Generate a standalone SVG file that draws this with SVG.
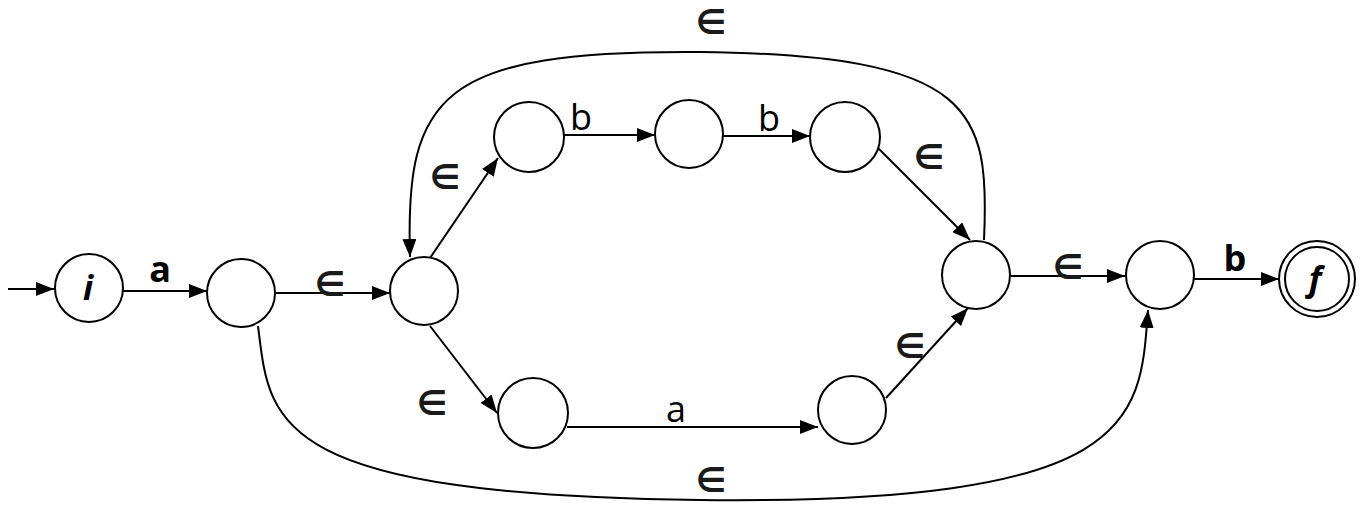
<svg xmlns="http://www.w3.org/2000/svg" width="1365" height="532" viewBox="0 0 1365 532">
  <style>
    .state { fill: #fff; stroke: #000; stroke-width: 2; }
    .edge { fill: none; stroke: #000; stroke-width: 2; }
    .lbl { font-family: "Open Sans", "Liberation Sans", sans-serif; font-size: 36px; fill: #000; text-anchor: middle; }
    .bold { font-weight: bold; }
    .eps { font-family: "DejaVu Sans", sans-serif; font-size: 34px; font-weight: bold; fill: #1a1a1a; text-anchor: middle; }
    .name { font-family: "Open Sans", "Liberation Sans", sans-serif; font-size: 34px; font-weight: bold; font-style: italic; text-anchor: middle; }
  </style>
  <defs>
    <marker id="arrow" viewBox="0 0 18 14" refX="18" refY="7" markerWidth="18" markerHeight="14" markerUnits="userSpaceOnUse" orient="auto">
      <path d="M0,0 L18,7 L0,14 Z" fill="#000"/>
    </marker>
  </defs>

  <g id="connectors">
    <path class="edge" d="M8,289 L54,289" marker-end="url(#arrow)"/>
    <path class="edge" d="M123,291 L207,291" marker-end="url(#arrow)"/>
    <path class="edge" d="M276,293 L390,293" marker-end="url(#arrow)"/>
    <path class="edge" d="M430,258 L498,158" marker-end="url(#arrow)"/>
    <path class="edge" d="M430,326 L497,413" marker-end="url(#arrow)"/>
    <path class="edge" d="M564,135 L655,135" marker-end="url(#arrow)"/>
    <path class="edge" d="M723,136 L810,136" marker-end="url(#arrow)"/>
    <path class="edge" d="M878,148 L970,240" marker-end="url(#arrow)"/>
    <path class="edge" d="M567,427 L818,427" marker-end="url(#arrow)"/>
    <path class="edge" d="M886,398 L968,308" marker-end="url(#arrow)"/>
    <path class="edge" d="M1011,276 L1125,276" marker-end="url(#arrow)"/>
    <path class="edge" d="M1194,279 L1279,279" marker-end="url(#arrow)"/>
    <!-- loop back over the top -->
    <path class="edge" d="M984,240 C990,110 975,55 700,52 C440,50 405,95 410,257" marker-end="url(#arrow)"/>
    <!-- bypass along the bottom -->
    <path class="edge" d="M258,326 C270,420 265,495 700,500 C1140,505 1140,420 1148,310" marker-end="url(#arrow)"/>
  </g>

  <g id="labels">
    <text class="lbl bold" x="160" y="282">a</text>
    <text class="eps" x="330" y="296">∈</text>
    <text class="eps" x="445" y="189">∈</text>
    <text class="eps" x="432" y="415">∈</text>
    <text class="lbl" x="581" y="130">b</text>
    <text class="lbl" x="769" y="131">b</text>
    <text class="eps" x="929" y="169">∈</text>
    <text class="lbl" x="676" y="422">a</text>
    <text class="eps" x="910" y="358">∈</text>
    <text class="eps" x="1068" y="279">∈</text>
    <text class="lbl bold" x="1235" y="271">b</text>
    <text class="eps" x="711" y="34">∈</text>
    <text class="eps" x="711" y="492">∈</text>
  </g>

  <g id="node-i">
    <circle class="state" cx="89" cy="288" r="34"/>
    <text class="name" x="88" y="300">i</text>
  </g>
  <g id="node-1"><circle class="state" cx="241" cy="293" r="34"/></g>
  <g id="node-2"><circle class="state" cx="424" cy="291" r="34"/></g>
  <g id="node-3"><circle class="state" cx="529" cy="137" r="35"/></g>
  <g id="node-4"><circle class="state" cx="689" cy="134" r="34"/></g>
  <g id="node-5"><circle class="state" cx="845" cy="137" r="35"/></g>
  <g id="node-6"><circle class="state" cx="533" cy="413" r="35"/></g>
  <g id="node-7"><circle class="state" cx="852" cy="410" r="34"/></g>
  <g id="node-8"><circle class="state" cx="976" cy="275" r="34"/></g>
  <g id="node-9"><circle class="state" cx="1160" cy="275" r="34"/></g>
  <g id="node-f">
    <circle class="state" cx="1317" cy="279" r="38"/>
    <circle class="state" cx="1317" cy="279" r="32"/>
    <text class="name" x="1315" y="291">f</text>
  </g>
</svg>
